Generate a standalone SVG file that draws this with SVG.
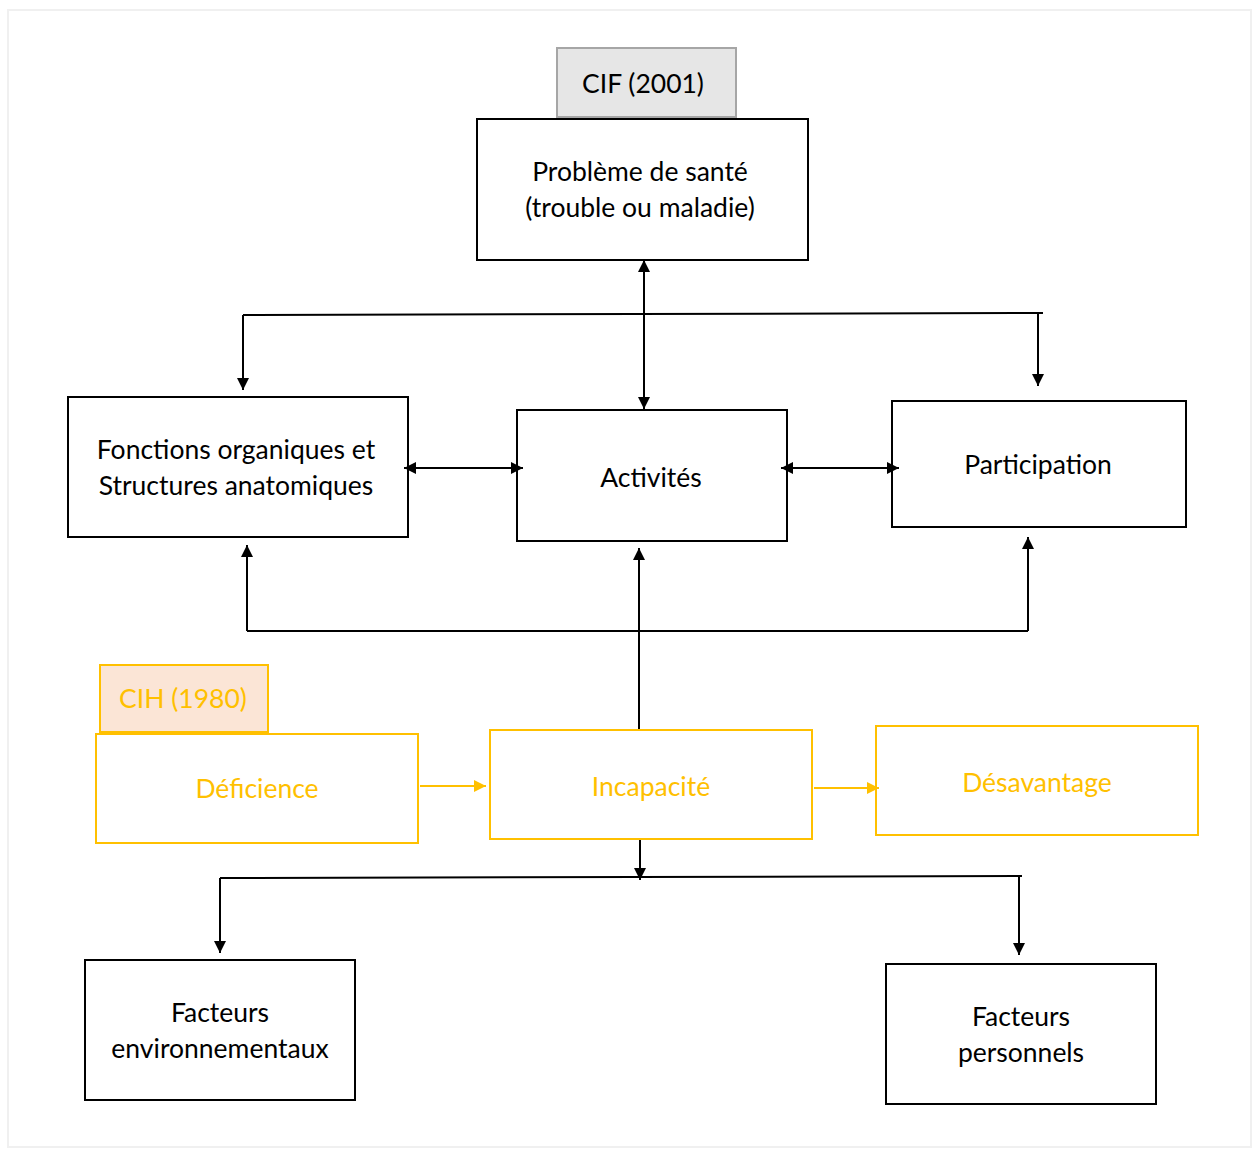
<svg xmlns="http://www.w3.org/2000/svg" width="1258" height="1151" viewBox="0 0 1258 1151">
<defs>
<style>
.box{fill:#fff;stroke:#000;stroke-width:2}
.obox{fill:#fff;stroke:#ffc000;stroke-width:2}
.t{font-family:Lato,"Open Sans","Liberation Sans",sans-serif;font-size:26.5px;fill:#000;text-anchor:middle}
.ot{fill:#ffc000}
.c{fill:none;stroke:#000;stroke-width:2}
.oc{fill:none;stroke:#ffc000;stroke-width:2}
</style>
<marker id="ah" viewBox="0 0 10 10" refX="10" refY="5" markerWidth="12" markerHeight="12" markerUnits="userSpaceOnUse" orient="auto-start-reverse"><path d="M0,0 L10,5 L0,10 z" fill="#000"/></marker>
<marker id="oh" viewBox="0 0 10 10" refX="10" refY="5" markerWidth="12" markerHeight="12" markerUnits="userSpaceOnUse" orient="auto"><path d="M0,0 L10,5 L0,10 z" fill="#ffc000"/></marker>
</defs>
<rect width="1258" height="1151" fill="#fff"/>
<rect x="8" y="10" width="1243" height="1137" fill="#fff" stroke="#f0f0f0" stroke-width="2"/>
<g id="cif"><rect x="557" y="48" width="179" height="69" fill="#e6e6e6" stroke="#a6a6a6" stroke-width="2"/><text class="t" x="643" y="93">CIF (2001)</text></g>
<g id="probleme"><rect class="box" x="477" y="119" width="331" height="141"/><text class="t" x="640" y="181">Problème de santé</text><text class="t" x="640" y="217">(trouble ou maladie)</text></g>
<g id="fonctions"><rect class="box" x="68" y="397" width="340" height="140"/><text class="t" x="236" y="459">Fonctions organiques et</text><text class="t" x="236" y="495">Structures anatomiques</text></g>
<g id="activites"><rect class="box" x="517" y="410" width="270" height="131"/><text class="t" x="651" y="487">Activités</text></g>
<g id="participation"><rect class="box" x="892" y="401" width="294" height="126"/><text class="t" x="1038" y="474">Participation</text></g>
<g id="cih"><rect x="100" y="665" width="168" height="67" fill="#fbe5d6" stroke="#ffc000" stroke-width="2"/><text class="t ot" x="183" y="708">CIH (1980)</text></g>
<g id="deficience"><rect class="obox" x="96" y="734" width="322" height="109"/><text class="t ot" x="257" y="798">Déficience</text></g>
<g id="incapacite"><rect class="obox" x="490" y="730" width="322" height="109"/><text class="t ot" x="651" y="796">Incapacité</text></g>
<g id="desavantage"><rect class="obox" x="876" y="726" width="322" height="109"/><text class="t ot" x="1037" y="792">Désavantage</text></g>
<g id="env"><rect class="box" x="85" y="960" width="270" height="140"/><text class="t" x="220" y="1022">Facteurs</text><text class="t" x="220" y="1058">environnementaux</text></g>
<g id="pers"><rect class="box" x="886" y="964" width="270" height="140"/><text class="t" x="1021" y="1026">Facteurs</text><text class="t" x="1021" y="1062">personnels</text></g>
<g id="connectors">
<path class="c" d="M243,315 L1043,313"/>
<path class="c" d="M243,315 L243,390" marker-end="url(#ah)"/>
<path class="c" d="M1038,313 L1038,386" marker-end="url(#ah)"/>
<path class="c" d="M644,260 L644,409" marker-start="url(#ah)" marker-end="url(#ah)"/>
<path class="c" d="M404,468 L523,468" marker-start="url(#ah)" marker-end="url(#ah)"/>
<path class="c" d="M781,468 L899,468" marker-start="url(#ah)" marker-end="url(#ah)"/>
<path class="c" d="M247,631 L1028,631"/>
<path class="c" d="M247,631 L247,545" marker-end="url(#ah)"/>
<path class="c" d="M1028,631 L1028,537" marker-end="url(#ah)"/>
<path class="c" d="M639,729 L639,548" marker-end="url(#ah)"/>
<path class="oc" d="M420,786 L486,786" marker-end="url(#oh)"/>
<path class="oc" d="M814,788 L879,788" marker-end="url(#oh)"/>
<path class="c" d="M640,840 L640,880" marker-end="url(#ah)"/>
<path class="c" d="M220,878 L1022,876"/>
<path class="c" d="M220,878 L220,953" marker-end="url(#ah)"/>
<path class="c" d="M1019,876 L1019,955" marker-end="url(#ah)"/>
</g>
</svg>
